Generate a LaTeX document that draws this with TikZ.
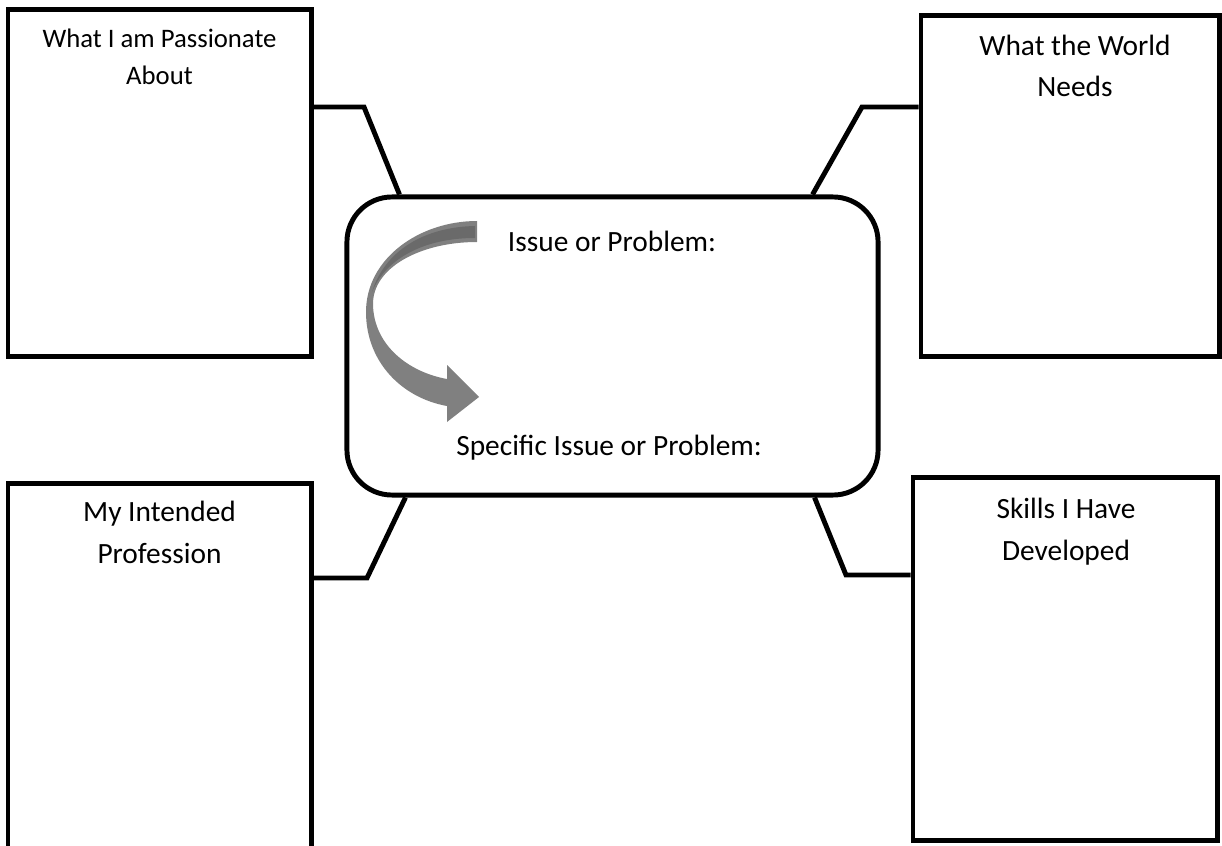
\documentclass[tikz,border=0pt]{standalone}
\usepackage{fontspec}
\setmainfont{Carlito}
\usetikzlibrary{positioning,calc}
\definecolor{arrowgray}{HTML}{808080}
\definecolor{arrowshade}{HTML}{6A6A6A}
\tikzset{topicbox/.style = {draw=black, line width=3.5pt, rectangle, inner sep=0pt}}
\tikzset{issuebox/.style = {draw=black, line width=3.5pt, fill=white, rounded corners=1.125cm, minimum width=13.275cm, minimum height=7.45cm, inner sep=0pt}}
\tikzset{link/.style={line width=3.5pt}}
\tikzset{boxtext/.style={font=\fontsize{20.9}{29.5}\selectfont, align=center, anchor=base, inner sep=0pt}}

\begin{document}
\begin{tikzpicture}[x=0.025cm,y=-0.025cm]
	\useasboundingbox (0,0) rectangle (1222,846);
	\fill[white] (0,0) rectangle (1222,846);
	\clip (0,0) rectangle (1222,846);
	% the four boxes
	\node[topicbox, minimum width=7.575cm, minimum height=8.65cm] (passion) at (159.5,183) {};
	\node[topicbox, minimum width=7.45cm, minimum height=8.5cm] (needs) at (1070,186) {};
	\node[topicbox, minimum width=7.575cm, minimum height=9.65cm] (profession) at (159.5,677) {};
	\node[topicbox, minimum width=7.6cm, minimum height=9.05cm] (skills) at (1065,659) {};
	% base is on the last line
	\node[boxtext, font=\fontsize{19}{27}\selectfont] (passiontext) at (159.5,85) {What I am Passionate\\About};
	\node[boxtext] (needstext) at (1075,97) {What the World\\Needs};
	\node[boxtext] (professiontext) at (159.5,563) {My Intended\\Profession};
	\node[boxtext] (skillstext) at (1066,560) {Skills I Have\\Developed};
	% bends of the links
	\coordinate (tlbend) at (364,107);
	\coordinate (trbend) at (862,107);
	\coordinate (blbend) at (367,578);
	\coordinate (brbend) at (846,575);
	\node[issuebox] (issue) at (612.5,346) {};
	\draw[link] (passion.east |- tlbend) -- (tlbend) -- ($(issue.north west)+(55,0)$);
	\draw[link] (needs.west |- trbend) -- (trbend) -- ($(issue.north east)+(-68,0)$);
	\draw[link] (profession.east |- blbend) -- (blbend) -- ($(issue.south west)+(61,0)$);
	\draw[link] (skills.west |- brbend) -- (brbend) -- ($(issue.south east)+(-66,0)$);
	% curved arrow
	\fill[arrowgray] (477,221) .. controls (420,221) and (366,258) .. (366,312)
		.. controls (366,362) and (402,398) .. (447,406)
		-- (447,422) -- (479,397) -- (447,365) -- (447,379)
		.. controls (408,372) and (374,345) .. (373,305)
		.. controls (372,268) and (420,242) .. (477,242) -- cycle;
	\fill[arrowshade] (475,226) .. controls (425,227) and (385,250) .. (372,292)
		.. controls (386,258) and (425,238) .. (475,238) -- cycle;
	\node[boxtext] (issuetext) at (612,252) {Issue or Problem:};
	\node[boxtext] (specifictext) at (609,455) {Specific Issue or Problem:};
\end{tikzpicture}
\end{document}
